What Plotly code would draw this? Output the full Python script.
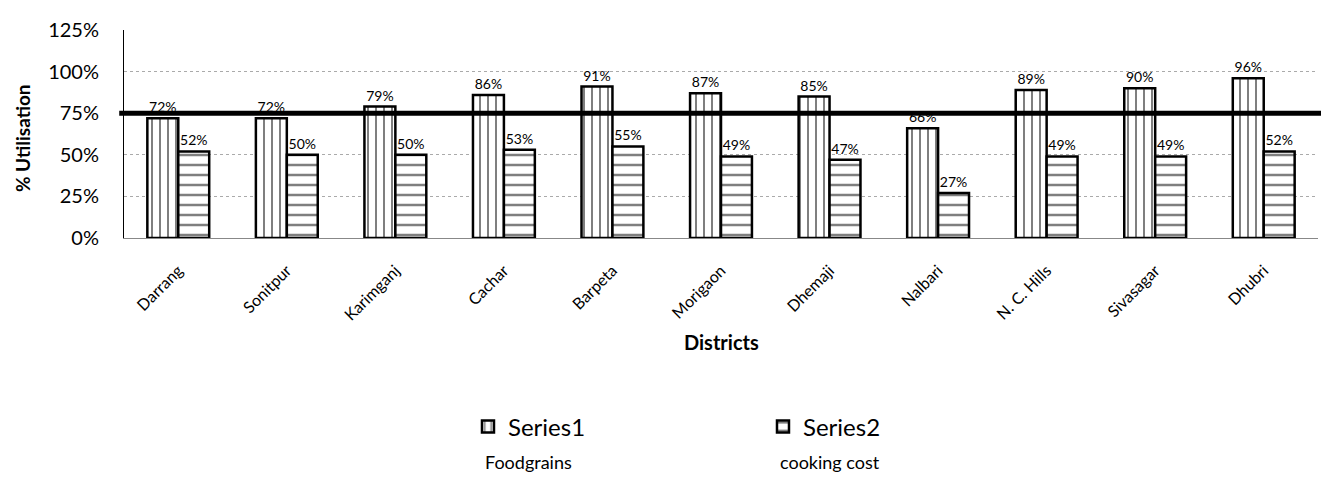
import plotly.graph_objects as go

districts = ["Darrang", "Sonitpur", "Karimganj", "Cachar", "Barpeta", "Morigaon",
             "Dhemaji", "Nalbari", "N. C. Hills", "Sivasagar", "Dhubri"]
foodgrains = [0.72, 0.72, 0.79, 0.86, 0.91, 0.87, 0.85, 0.66, 0.89, 0.90, 0.96]
cooking_cost = [0.52, 0.50, 0.50, 0.53, 0.55, 0.49, 0.47, 0.27, 0.49, 0.49, 0.52]
threshold = 0.75
y_ticks = [0, 0.25, 0.5, 0.75, 1.0, 1.25]

FONT = "Lato, 'Open Sans', sans-serif"

fig = go.Figure()
fig.add_trace(go.Bar(
    x=districts, y=foodgrains, name="Series1",
    text=[f"{v:.0%}" for v in foodgrains], textposition="outside",
    textfont=dict(size=14, color="black", family=FONT),
    marker=dict(color="white", line=dict(color="black", width=2.5),
                pattern=dict(shape="|", fgcolor="black", bgcolor="white", size=8, solidity=0.25)),
    cliponaxis=False,
))
fig.add_trace(go.Bar(
    x=districts, y=cooking_cost, name="Series2",
    text=[f"{v:.0%}" for v in cooking_cost], textposition="outside",
    textfont=dict(size=14, color="black", family=FONT),
    marker=dict(color="white", line=dict(color="black", width=2.5),
                pattern=dict(shape="-", fgcolor="black", bgcolor="white", size=10, solidity=0.25)),
    cliponaxis=False,
))

fig.add_shape(type="line", xref="paper", yref="y", x0=-0.004, x1=1.02, y0=threshold, y1=threshold,
              line=dict(color="black", width=5), layer="above")

fig.add_annotation(text="<b>Districts</b>", xref="paper", yref="paper", x=0.5, y=-0.5,
                   xanchor="center", yanchor="middle", showarrow=False,
                   font=dict(size=20, color="black", family=FONT))
fig.add_annotation(text="<b>% Utilisation</b>", xref="paper", yref="paper", x=-0.0855, y=0.48,
                   xanchor="center", yanchor="middle", showarrow=False, textangle=-90,
                   font=dict(size=19, color="black", family=FONT))
fig.add_annotation(text="Foodgrains", xref="paper", yref="paper", x=0.3007, y=-1.077,
                   xanchor="left", yanchor="middle", showarrow=False,
                   font=dict(size=18, color="black", family=FONT))
fig.add_annotation(text="cooking cost", xref="paper", yref="paper", x=0.5478, y=-1.077,
                   xanchor="left", yanchor="middle", showarrow=False,
                   font=dict(size=18, color="black", family=FONT))

fig.update_layout(
    width=1329, height=479,
    margin=dict(l=116, r=19, t=22, b=249),
    paper_bgcolor="white", plot_bgcolor="white",
    barmode="group", bargap=0.43, bargroupgap=0,
    font=dict(family=FONT, color="black"),
    showlegend=True,
    legend=dict(orientation="h", x=0.2881, y=-0.9087, xanchor="left", yanchor="middle",
                font=dict(size=24, color="black", family=FONT),
                entrywidth=250, entrywidthmode="pixels", itemwidth=30),
    xaxis=dict(
        tickangle=-45, tickfont=dict(size=16, family=FONT), ticklabelstandoff=16,
        showline=True, linecolor="#888", linewidth=1,
        ticks="", showgrid=False, automargin=False,
    ),
    yaxis=dict(
        range=[0, 1.25], tickvals=y_ticks, tickformat=".0%",
        tickfont=dict(size=20, family=FONT), ticklabelstandoff=20,
        showline=True, linecolor="black", linewidth=1,
        showgrid=True, gridcolor="#aaa", griddash="dot", gridwidth=1,
        zeroline=False, ticks="", automargin=False,
    ),
)

fig.write_html("out.html")
